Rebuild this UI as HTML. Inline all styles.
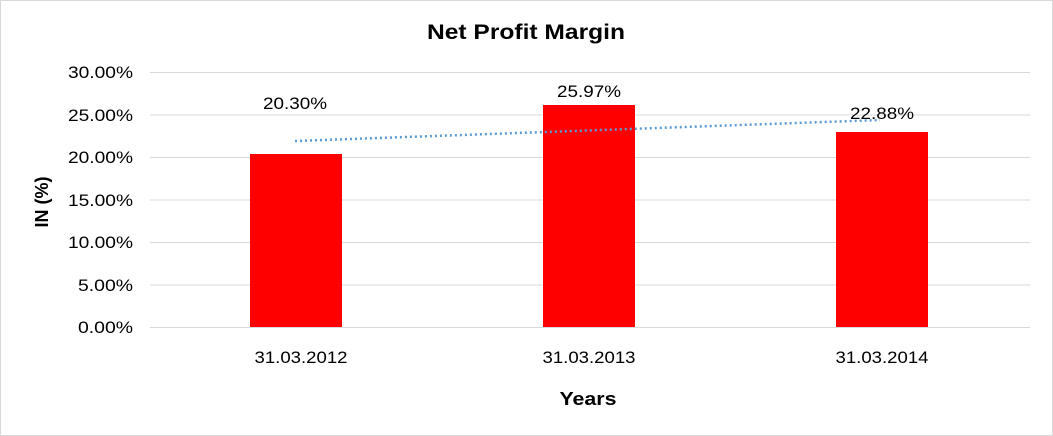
<!DOCTYPE html>
<html><head><style>
body{margin:0;background:#fff;}
svg{display:block;font-family:"Liberation Sans",Arial,sans-serif;}
</style></head><body>
<svg width="1053" height="436" xmlns="http://www.w3.org/2000/svg">
<rect x="0.5" y="0.5" width="1052" height="435" fill="#fff" stroke="#d9d9d9"/>
<text x="526" y="39" font-size="21" font-weight="bold" text-anchor="middle" fill="#000" textLength="198" lengthAdjust="spacingAndGlyphs">Net Profit Margin</text>
<g stroke="#d9d9d9" stroke-width="1">
<line x1="150" y1="72.5" x2="1030" y2="72.5"/>
<line x1="150" y1="115" x2="1030" y2="115"/>
<line x1="150" y1="157.5" x2="1030" y2="157.5"/>
<line x1="150" y1="200" x2="1030" y2="200"/>
<line x1="150" y1="242.5" x2="1030" y2="242.5"/>
<line x1="150" y1="285" x2="1030" y2="285"/>
<line x1="150" y1="327.5" x2="1030" y2="327.5"/>
</g>
<g font-size="17" text-anchor="end" fill="#000" lengthAdjust="spacingAndGlyphs">
<text x="133" y="78" textLength="65" lengthAdjust="spacingAndGlyphs">30.00%</text>
<text x="133" y="121" textLength="65" lengthAdjust="spacingAndGlyphs">25.00%</text>
<text x="133" y="163" textLength="65" lengthAdjust="spacingAndGlyphs">20.00%</text>
<text x="133" y="206" textLength="65" lengthAdjust="spacingAndGlyphs">15.00%</text>
<text x="133" y="248" textLength="65" lengthAdjust="spacingAndGlyphs">10.00%</text>
<text x="133" y="291" textLength="55" lengthAdjust="spacingAndGlyphs">5.00%</text>
<text x="133" y="333" textLength="55" lengthAdjust="spacingAndGlyphs">0.00%</text>
</g>
<g fill="#ff0000">
<rect x="250" y="154" width="92" height="173"/>
<rect x="543" y="105" width="92" height="222"/>
<rect x="836" y="132" width="92" height="195"/>
</g>
<line x1="295" y1="141" x2="880" y2="120" stroke="#5b9bd5" stroke-width="2.5" stroke-dasharray="2,3"/>
<g font-size="17" text-anchor="middle" fill="#000">
<text x="295" y="109" textLength="64" lengthAdjust="spacingAndGlyphs">20.30%</text>
<text x="589" y="97" textLength="64" lengthAdjust="spacingAndGlyphs">25.97%</text>
<text x="882" y="119" textLength="64" lengthAdjust="spacingAndGlyphs">22.88%</text>
<text x="301" y="363" textLength="93" lengthAdjust="spacingAndGlyphs">31.03.2012</text>
<text x="589" y="363" textLength="93" lengthAdjust="spacingAndGlyphs">31.03.2013</text>
<text x="882" y="363" textLength="93" lengthAdjust="spacingAndGlyphs">31.03.2014</text>
</g>
<text x="588" y="405" font-size="18" font-weight="bold" text-anchor="middle" textLength="57" lengthAdjust="spacingAndGlyphs">Years</text>
<text transform="translate(48,202) rotate(-90)" font-size="18" font-weight="bold" text-anchor="middle">IN (%)</text>
</svg>
</body></html>
